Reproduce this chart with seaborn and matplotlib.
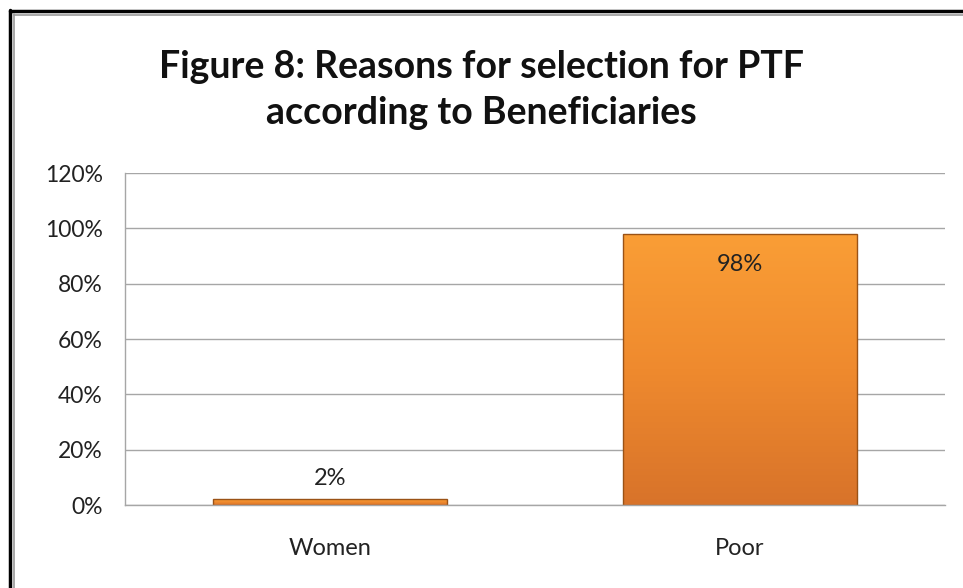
import matplotlib
matplotlib.use("Agg")
import matplotlib.pyplot as plt
import seaborn as sns
import numpy as np
import pandas as pd
from matplotlib.lines import Line2D
from matplotlib.colors import LinearSegmentedColormap

categories = ["Women", "Poor"]
values = [2, 98]
value_labels = ["2%", "98%"]
yticks = [0, 20, 40, 60, 80, 100, 120]
ytick_labels = ["0%", "20%", "40%", "60%", "80%", "100%", "120%"]
title = "Figure 8: Reasons for selection for PTF\naccording to Beneficiaries"

sns.set_theme(style="white")
plt.rcParams["font.family"] = ["Lato", "DejaVu Sans"]

W, H = 963, 588
fig = plt.figure(figsize=(W / 100, H / 100), dpi=100)
fig.patch.set_facecolor("white")
ax = fig.add_axes([125 / W, (H - 505) / H, 820 / W, 332 / H])

df = pd.DataFrame({"category": categories, "value": values})
sns.barplot(data=df, x="category", y="value", ax=ax, color="#F39A30",
            width=0.57, edgecolor="#9A5216", linewidth=1.0, saturation=1)

# gradient fill clipped to each bar
cmap = LinearSegmentedColormap.from_list("og", ["#D8732A", "#EF8A2E", "#FA9E36"])
grad = np.linspace(0, 1, 256).reshape(-1, 1)
for patch in ax.patches:
    x0, y0 = patch.get_x(), patch.get_y()
    w, h = patch.get_width(), patch.get_height()
    im = ax.imshow(grad, cmap=cmap, origin="lower", aspect="auto",
                   extent=[x0, x0 + w, y0, y0 + h], zorder=patch.get_zorder() + 0.1)
    im.set_clip_path(patch)
    patch.set_zorder(patch.get_zorder() + 0.2)
    patch.set_facecolor("none")

ax.set_xlim(-0.5, 1.5)
ax.set_ylim(0, 120)
ax.set_yticks(yticks)
ax.set_yticklabels(ytick_labels)
ax.set_xlabel("")
ax.set_ylabel("")
ax.yaxis.grid(True, color="#A6A6A6", linewidth=1.0)
ax.set_axisbelow(True)
for s in ["top", "right"]:
    ax.spines[s].set_visible(False)
for s in ["left", "bottom"]:
    ax.spines[s].set_color("#A6A6A6")
    ax.spines[s].set_linewidth(1.0)
ax.tick_params(axis="y", labelsize=16.5, colors="#222222", pad=16, length=0)
ax.tick_params(axis="x", labelsize=17, colors="#222222", pad=24, length=0)

# value labels
for i, (v, lab) in enumerate(zip(values, value_labels)):
    if v > 50:
        ax.text(i, v - 11, lab, ha="center", va="center", fontsize=17, color="#222222")
    else:
        ax.text(i, v + 7.5, lab, ha="center", va="center", fontsize=17, color="#222222")

fig.text(0.5, 1 - 90 / H, title, ha="center", va="center", fontsize=27,
         fontweight="bold", color="#111111", linespacing=1.45)

# outer frame
fig.add_artist(Line2D([10 / W, 10 / W], [0, 1 - 10 / H], color="black", lw=2.5, transform=fig.transFigure))
fig.add_artist(Line2D([10 / W, 1], [1 - 11 / H, 1 - 11 / H], color="black", lw=2.5, transform=fig.transFigure))
fig.add_artist(Line2D([13.5 / W, 13.5 / W], [0, 1 - 14 / H], color="#999999", lw=1.2, transform=fig.transFigure))
fig.add_artist(Line2D([13.5 / W, 1], [1 - 14.5 / H, 1 - 14.5 / H], color="#999999", lw=1.2, transform=fig.transFigure))

fig.savefig("out.png", dpi=100)
